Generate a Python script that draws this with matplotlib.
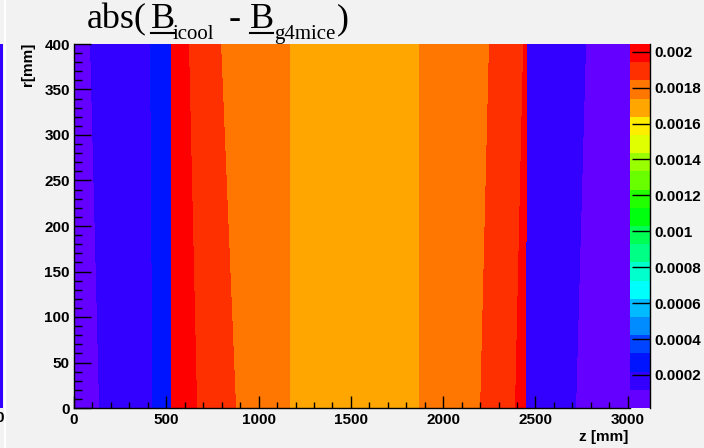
import colorsys
import numpy as np
import matplotlib
matplotlib.use("Agg")
import matplotlib.pyplot as plt
from matplotlib.colors import ListedColormap, BoundaryNorm
from matplotlib.cm import ScalarMappable
from matplotlib.lines import Line2D
from matplotlib.patches import Rectangle
from matplotlib.ticker import MultipleLocator

W, H = 704, 448
BG = "#f2f2f2"

# field range of the colour scale (20 contour bands, ROOT style)
z_min = 0.000016
z_max = 0.002043
n_levels = 20

# bands of abs(B_icool - B_g4mice):
# left/right z edge [mm] of each band at r = 0 and at r = 400
edge_left_r0 = [0, 141, 430, 531, 672, 883, 1170, 1874, 2205, 2394, 2454, 2725]
edge_right_r0 = [141, 430, 531, 672, 883, 1170, 1874, 2205, 2394, 2454, 2725, 3012]
edge_left_r400 = [0, 92, 417, 531, 628, 802, 1170, 1874, 2253, 2438, 2459, 2779]
edge_right_r400 = [92, 417, 531, 628, 802, 1170, 1874, 2253, 2438, 2459, 2779, 3012]
band_value = [0.00007, 0.00017, 0.00027, 0.00200, 0.00190, 0.00180,
              0.00170, 0.00180, 0.00190, 0.00200, 0.00017, 0.00007]

r_max = 400
z_lim = 3012
cbar_ticks = [0.0002, 0.0004, 0.0006, 0.0008, 0.001, 0.0012,
              0.0014, 0.0016, 0.0018, 0.002]


def root_pretty(j, ndiv=20, ncol=50):
    # colour of contour j in ROOT's old "pretty" violet->red palette
    idx = int((j + 0.99) * ncol / ndiv)
    hue = 280 - (idx + 1) * 280.0 / ncol
    return colorsys.hls_to_rgb(hue / 360.0, 0.5, 1.0)


cmap = ListedColormap([root_pretty(j) for j in range(n_levels)])
levels = np.linspace(z_min, z_max, n_levels + 1)
norm = BoundaryNorm(levels, cmap.N)

fig = plt.figure(figsize=(W / 100, H / 100), dpi=100, facecolor=BG)

# piece of the neighbouring pad at the far left
fig.add_artist(Rectangle((0, (H - 408) / H), 3.3 / W, 364 / H,
                         transform=fig.transFigure, color=root_pretty(1), lw=0))
fig.add_artist(Rectangle((4 / W, 0), 2 / W, 1, transform=fig.transFigure,
                         color="white", lw=0))
fig.text(3.5 / W, (H - 418) / H, "0", ha="right", va="center",
         family="Liberation Sans", weight="bold", fontsize=11)

ax = fig.add_axes([74 / W, (H - 408) / H, 556 / W, 364 / H])
ax.set_facecolor(BG)

for zl0, zr0, zl4, zr4, v in zip(edge_left_r0, edge_right_r0,
                                 edge_left_r400, edge_right_r400, band_value):
    c = cmap(norm(v))
    ax.fill([zl0, zl4, zr4, zr0], [0, r_max, r_max, 0], color=c, lw=0.6,
            ec=c, antialiased=False, zorder=1)

ax.set_xlim(0, z_lim)
ax.set_ylim(0, r_max)
for s in ["top", "right"]:
    ax.spines[s].set_visible(False)
for s in ["left", "bottom"]:
    ax.spines[s].set_linewidth(1)
    ax.spines[s].set_zorder(5)

ax.xaxis.set_major_locator(MultipleLocator(500))
ax.xaxis.set_minor_locator(MultipleLocator(100))
ax.yaxis.set_major_locator(MultipleLocator(50))
ax.yaxis.set_minor_locator(MultipleLocator(10))
ax.tick_params(axis="x", which="major", direction="in", length=8.6, width=1, pad=3.5)
ax.tick_params(axis="x", which="minor", direction="in", length=4.3, width=1)
ax.tick_params(axis="y", which="major", direction="in", length=12.2, width=1, pad=3)
ax.tick_params(axis="y", which="minor", direction="in", length=5.8, width=1)
for lab in ax.get_xticklabels() + ax.get_yticklabels():
    lab.set_fontfamily("Liberation Sans")
    lab.set_fontweight("bold")
    lab.set_fontsize(11)

fig.text(628 / W, (H - 444) / H, "z [mm]", ha="right", va="bottom",
         family="Liberation Sans", weight="bold", fontsize=11)
fig.text(28 / W, (H - 43) / H, "r[mm]", ha="center", va="top", rotation=90,
         family="Liberation Sans", weight="bold", fontsize=11)

# colour scale
cax = fig.add_axes([630 / W, (H - 408) / H, 20 / W, 364 / H])
cb = fig.colorbar(ScalarMappable(norm=norm, cmap=cmap), cax=cax,
                  ticks=cbar_ticks, spacing="proportional")
cb.outline.set_visible(False)
cax.plot([1, 1], [0, 1], transform=cax.transAxes, color="black", lw=1,
         clip_on=False)
cax.yaxis.set_ticks_position("right")
cax.tick_params(axis="y", which="major", direction="in", length=13, width=1, pad=3)
cax.minorticks_off()
cax.set_yticklabels(["%g" % t for t in cbar_ticks])
for lab in cax.get_yticklabels():
    lab.set_fontfamily("Liberation Sans")
    lab.set_fontweight("bold")
    lab.set_fontsize(11)

# title abs(B_icool - B_g4mice) with underlined B
title_parts = [("abs(", 87, 28, 26, False), ("B", 151, 28, 26, True),
               ("icool", 173, 39, 15, False), ("-", 229, 28, 26, False),
               ("B", 250, 28, 26, True), ("g4mice", 274, 39, 15, False),
               (")", 337, 28, 26, False)]
for s, xp, yb, size, ul in title_parts:
    fig.text(xp / W, (H - yb) / H, s, ha="left", va="baseline",
             family="Liberation Serif", fontsize=size)
    if ul:
        fig.add_artist(Line2D([xp / W, (xp + 23) / W], [(H - 33) / H] * 2,
                              transform=fig.transFigure, color="black", lw=1.5))

fig.savefig("out.png", dpi=100, facecolor=BG)
